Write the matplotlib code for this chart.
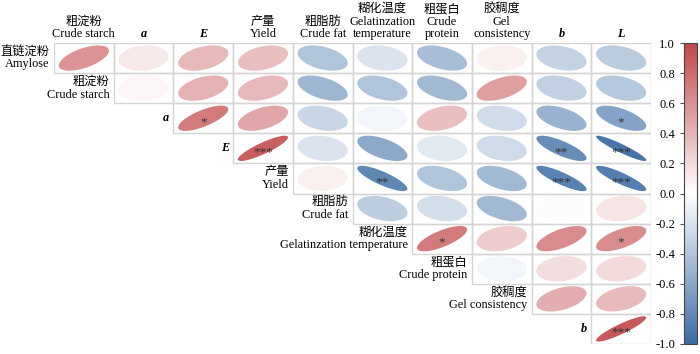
import numpy as np
import matplotlib
matplotlib.use("Agg")
import matplotlib.pyplot as plt
from matplotlib.patches import Polygon, Rectangle
from matplotlib.colors import LinearSegmentedColormap, Normalize

plt.rcParams['font.family'] = ['Liberation Serif', 'Noto Sans CJK SC', 'DejaVu Sans']

# Row variables (top to bottom) and column variables (left to right)
row_labels = ["直链淀粉\nAmylose", "粗淀粉\nCrude starch", "a", "E", "产量\nYield",
              "粗脂肪\nCrude fat", "糊化温度\nGelatinzation temperature",
              "粗蛋白\nCrude protein", "胶稠度\nGel consistency", "b"]
col_labels = ["粗淀粉\nCrude starch", "a", "E", "产量\nYield", "粗脂肪\nCrude fat",
              "糊化温度\nGelatinzation\ntemperature", "粗蛋白\nCrude\nprotein",
              "胶稠度\nGel\nconsistency", "b", "L"]
italic_labels = {"a", "E", "b", "L"}

# Correlation coefficients: row i holds columns i..9
corr_amylose = [0.58, 0.12, 0.38, 0.35, -0.40, -0.18, -0.44, 0.08, -0.30, -0.35]
corr_starch = [0.05, 0.42, 0.38, -0.50, -0.40, -0.47, 0.52, -0.32, -0.37]
corr_a = [0.72, 0.48, -0.28, -0.07, 0.35, -0.24, -0.52, -0.62]
corr_E = [0.87, -0.18, -0.58, -0.15, -0.25, -0.78, -0.93]
corr_yield = [0.08, -0.82, -0.40, -0.47, -0.85, -0.87]
corr_fat = [-0.34, -0.22, -0.47, 0.02, 0.15]
corr_gt = [0.72, 0.28, 0.62, 0.62]
corr_protein = [-0.07, 0.18, 0.20]
corr_gel = [0.44, 0.37]
corr_b = [0.90]
corr_rows = [corr_amylose, corr_starch, corr_a, corr_E, corr_yield,
             corr_fat, corr_gt, corr_protein, corr_gel, corr_b]

stars_rows = [
    ["", "", "", "", "", "", "", "", "", ""],
    ["", "", "", "", "", "", "", "", ""],
    ["*", "", "", "", "", "", "", "*"],
    ["***", "", "", "", "", "**", "***"],
    ["", "**", "", "", "***", "***"],
    ["", "", "", "", ""],
    ["*", "", "", "*"],
    ["", "", ""],
    ["", ""],
    ["***"],
]

cbar_ticks = [-1.0, -0.8, -0.6, -0.4, -0.2, 0.0, 0.2, 0.4, 0.6, 0.8, 1.0]

cmap = LinearSegmentedColormap.from_list(
    "rb", ["#3B6CA4", "#FFFFFF", "#C1474A"])
norm = Normalize(-1, 1)

fig = plt.figure(figsize=(7.0, 3.54), dpi=100)
ax = fig.add_axes([54/700, 1-344/354, (651-54)/700, (344-43)/354])
ax.set_xlim(0, 10)
ax.set_ylim(0, 10)
ax.axis('off')

t = np.linspace(0, 2*np.pi, 120)
rad = 0.42
n = len(corr_rows)
for i, row in enumerate(corr_rows):
    yc = n - i - 0.5
    for k, r in enumerate(row):
        p = i + k
        xc = p + 0.5
        ax.add_patch(Rectangle((p, n - i - 1), 1, 1, fill=False,
                               edgecolor="#D4D4D4", linewidth=1.0, zorder=1))
        d = np.arccos(np.clip(r, -0.999, 0.999))
        ex = xc + rad*np.cos(t + d/2)
        ey = yc + rad*np.cos(t - d/2)
        ax.add_patch(Polygon(np.column_stack([ex, ey]), closed=True,
                             facecolor=cmap(norm(r)), edgecolor='none', zorder=2))
        s = stars_rows[i][k]
        if s:
            ax.text(xc, yc - 0.12, s, ha='center', va='center', fontsize=9.5,
                    color="#333333", zorder=3)

for i, lab in enumerate(row_labels):
    kw = dict(fontstyle='italic', fontweight='bold') if lab in italic_labels else {}
    ax.text(i - 0.07, n - i - 0.5, lab, ha='right', va='center', ma='right',
            fontsize=8.8, linespacing=1.08, clip_on=False, **kw)

for p, lab in enumerate(col_labels):
    kw = dict(fontstyle='italic', fontweight='bold') if lab in italic_labels else {}
    ax.text(p + 0.5, 10.1, lab, ha='center', va='bottom', ma='center',
            fontsize=8.8, linespacing=1.05, clip_on=False, **kw)

cax = fig.add_axes([684/700, 1-344/354, 13/700, (344-43)/354])
sm = matplotlib.cm.ScalarMappable(norm=norm, cmap=cmap)
cb = fig.colorbar(sm, cax=cax, ticks=cbar_ticks)
cb.ax.yaxis.set_ticks_position('left')
cb.ax.yaxis.set_label_position('left')
cb.ax.set_yticklabels([f"{v:.1f}" for v in cbar_ticks])
cb.ax.tick_params(labelsize=9, length=3, width=0.8, color="#555555")
cb.outline.set_edgecolor("#444444")
cb.outline.set_linewidth(0.8)

fig.savefig("out.png", dpi=100)
